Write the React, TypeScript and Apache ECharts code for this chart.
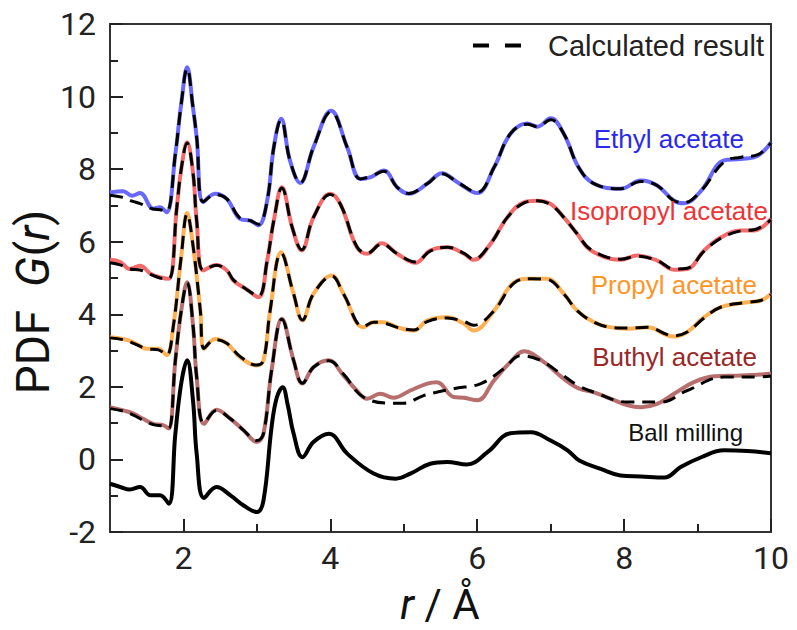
import React, { useEffect, useRef } from "react";
import * as echarts from "echarts";

// ---- data (r in Å, G(r)) ----
const ETHYL_R = [1.0, 1.18, 1.3, 1.41, 1.59, 1.68, 1.77, 1.89, 1.97, 2.05, 2.13, 2.18, 2.27, 2.43, 2.59, 2.77, 2.91, 3.02, 3.14, 3.23, 3.33, 3.45, 3.59, 3.77, 4.01, 4.23, 4.41, 4.55, 4.73, 4.91, 5.07, 5.32, 5.52, 5.73, 6.0, 6.23, 6.45, 6.68, 6.82, 7.0, 7.18, 7.38, 7.59, 7.95, 8.23, 8.45, 8.68, 8.82, 9.05, 9.36, 9.59, 9.82, 10.0];
const ETHYL_EXP = [7.36, 7.39, 7.27, 7.34, 6.91, 6.95, 6.81, 8.42, 9.8, 10.81, 9.7, 8.88, 7.09, 7.32, 7.18, 6.63, 6.58, 6.45, 7.13, 8.6, 9.39, 8.24, 7.62, 8.6, 9.61, 8.6, 7.73, 7.78, 7.96, 7.5, 7.32, 7.6, 7.89, 7.64, 7.34, 8.05, 8.97, 9.26, 9.17, 9.4, 8.97, 8.05, 7.6, 7.46, 7.69, 7.55, 7.13, 7.06, 7.41, 8.24, 8.28, 8.37, 8.74];
const ETHYL_CALC = [7.28, 7.22, 7.12, 7.05, 6.9, 6.88, 6.84, 8.42, 9.8, 10.78, 9.7, 8.88, 7.1, 7.3, 7.18, 6.65, 6.58, 6.48, 7.13, 8.6, 9.36, 8.24, 7.62, 8.6, 9.58, 8.6, 7.73, 7.8, 7.94, 7.5, 7.33, 7.6, 7.87, 7.64, 7.36, 8.05, 8.97, 9.24, 9.17, 9.36, 8.97, 8.05, 7.6, 7.46, 7.66, 7.55, 7.13, 7.08, 7.41, 8.2, 8.33, 8.4, 8.72];

const ISO_R = [1.0, 1.14, 1.27, 1.41, 1.55, 1.68, 1.8, 1.91, 1.97, 2.05, 2.13, 2.18, 2.27, 2.45, 2.59, 2.68, 2.85, 3.02, 3.14, 3.23, 3.34, 3.48, 3.61, 3.77, 4.0, 4.14, 4.36, 4.5, 4.7, 4.91, 5.16, 5.36, 5.59, 5.82, 5.95, 6.18, 6.41, 6.64, 6.82, 7.0, 7.18, 7.36, 7.55, 7.95, 8.18, 8.45, 8.68, 8.86, 9.09, 9.32, 9.59, 9.77, 10.0];
const ISO_EXP = [5.5, 5.44, 5.25, 5.34, 5.12, 5.02, 4.98, 6.95, 8.0, 8.74, 7.9, 6.58, 5.21, 5.36, 5.21, 4.93, 4.7, 4.47, 5.48, 6.58, 7.5, 6.4, 5.76, 6.67, 7.32, 7.02, 5.85, 5.67, 5.96, 5.67, 5.42, 5.76, 5.85, 5.67, 5.5, 5.94, 6.67, 7.09, 7.13, 7.04, 6.67, 6.22, 5.76, 5.5, 5.62, 5.48, 5.23, 5.25, 5.76, 6.12, 6.31, 6.31, 6.63];
const ISO_CALC = [5.42, 5.36, 5.25, 5.22, 5.1, 5.0, 4.98, 6.95, 8.0, 8.72, 7.9, 6.58, 5.22, 5.35, 5.21, 4.95, 4.7, 4.5, 5.48, 6.58, 7.48, 6.4, 5.78, 6.67, 7.3, 7.02, 5.87, 5.68, 5.94, 5.67, 5.44, 5.74, 5.85, 5.68, 5.52, 5.94, 6.67, 7.07, 7.13, 7.02, 6.67, 6.22, 5.78, 5.52, 5.6, 5.48, 5.25, 5.27, 5.74, 6.1, 6.3, 6.33, 6.6];

const PROP_R = [1.0, 1.18, 1.32, 1.5, 1.66, 1.77, 1.86, 1.97, 2.05, 2.13, 2.23, 2.28, 2.43, 2.59, 2.77, 3.0, 3.09, 3.18, 3.33, 3.5, 3.62, 3.77, 4.02, 4.18, 4.45, 4.59, 4.73, 4.91, 5.14, 5.32, 5.59, 5.82, 5.95, 6.23, 6.5, 6.73, 6.95, 7.18, 7.36, 7.59, 7.82, 8.05, 8.32, 8.59, 8.68, 8.86, 9.09, 9.32, 9.68, 9.86, 10.0];
const PROP_EXP = [3.37, 3.32, 3.23, 3.05, 3.05, 2.87, 3.64, 5.6, 6.79, 5.9, 4.1, 3.05, 3.32, 3.2, 2.82, 2.59, 2.73, 4.1, 5.71, 4.56, 3.83, 4.56, 5.07, 4.56, 3.64, 3.78, 3.78, 3.64, 3.55, 3.83, 3.92, 3.74, 3.55, 4.1, 4.88, 4.98, 4.98, 4.56, 4.1, 3.78, 3.64, 3.6, 3.64, 3.42, 3.39, 3.51, 3.92, 4.2, 4.33, 4.38, 4.56];
const PROP_CALC = [3.35, 3.3, 3.2, 3.05, 3.02, 2.88, 3.64, 5.6, 6.77, 5.9, 4.1, 3.06, 3.3, 3.2, 2.84, 2.6, 2.73, 4.1, 5.69, 4.56, 3.84, 4.56, 5.05, 4.56, 3.66, 3.78, 3.76, 3.64, 3.57, 3.8, 3.9, 3.8, 3.7, 4.1, 4.86, 4.98, 4.96, 4.56, 4.1, 3.78, 3.64, 3.62, 3.64, 3.44, 3.41, 3.51, 3.9, 4.2, 4.33, 4.38, 4.54];

const BUT_R = [1.0, 1.18, 1.32, 1.45, 1.59, 1.73, 1.8, 1.89, 1.97, 2.05, 2.13, 2.18, 2.28, 2.45, 2.64, 2.82, 3.0, 3.09, 3.2, 3.34, 3.5, 3.62, 3.77, 3.98, 4.18, 4.36, 4.5, 4.68, 4.86, 5.09, 5.32, 5.45, 5.68, 5.82, 6.0, 6.23, 6.45, 6.64, 6.91, 7.18, 7.39, 7.59, 7.82, 8.05, 8.23, 8.45, 8.68, 8.95, 9.23, 9.59, 10.0];
const BUT_EXP = [1.44, 1.35, 1.26, 1.12, 0.98, 0.94, 0.85, 2.73, 4.1, 4.88, 3.7, 2.27, 0.98, 1.37, 1.12, 0.8, 0.48, 0.71, 2.45, 3.88, 2.73, 2.09, 2.54, 2.73, 2.31, 1.9, 1.67, 1.81, 1.7, 1.9, 2.09, 2.13, 1.72, 1.7, 1.63, 2.18, 2.68, 2.98, 2.68, 2.22, 1.95, 1.85, 1.67, 1.49, 1.44, 1.53, 1.81, 2.13, 2.29, 2.31, 2.36];
const BUT_CALC_R = [1.0, 1.18, 1.32, 1.45, 1.59, 1.73, 1.8, 1.89, 1.97, 2.05, 2.13, 2.18, 2.28, 2.45, 2.64, 2.82, 3.0, 3.09, 3.2, 3.34, 3.5, 3.62, 3.77, 3.98, 4.18, 4.45, 4.86, 5.0, 5.27, 5.68, 6.05, 6.36, 6.59, 6.86, 7.14, 7.36, 7.59, 8.05, 8.5, 8.86, 9.36, 9.77, 10.0];
const BUT_CALC = [1.4, 1.33, 1.22, 1.08, 0.96, 0.92, 0.86, 2.73, 4.1, 4.86, 3.7, 2.27, 1.0, 1.35, 1.12, 0.8, 0.52, 0.71, 2.45, 3.86, 2.73, 2.1, 2.54, 2.72, 2.35, 1.72, 1.55, 1.55, 1.76, 1.95, 2.09, 2.5, 2.86, 2.73, 2.36, 2.05, 1.85, 1.58, 1.58, 1.9, 2.27, 2.27, 2.3];

const BM_R = [1.0, 1.14, 1.27, 1.41, 1.55, 1.68, 1.8, 1.89, 1.97, 2.05, 2.13, 2.18, 2.28, 2.45, 2.64, 2.82, 3.0, 3.09, 3.2, 3.27, 3.35, 3.42, 3.5, 3.62, 3.77, 3.98, 4.23, 4.59, 4.89, 5.09, 5.36, 5.59, 5.86, 6.14, 6.45, 6.73, 7.0, 7.23, 7.39, 7.68, 7.95, 8.23, 8.55, 8.77, 9.05, 9.36, 9.68, 10.0];
const BM_G = [-0.67, -0.76, -0.83, -0.76, -0.99, -0.99, -1.22, 0.71, 2.1, 2.73, 1.63, 0.16, -1.06, -0.76, -0.99, -1.27, -1.45, -1.13, 0.89, 1.7, 1.99, 1.5, 0.71, 0.06, 0.48, 0.71, 0.16, -0.39, -0.53, -0.39, -0.12, -0.07, -0.14, 0.2, 0.72, 0.75, 0.52, 0.25, -0.03, -0.26, -0.44, -0.47, -0.5, -0.21, 0.06, 0.25, 0.23, 0.17];

const X_MAJOR = [2, 4, 6, 8, 10];
const X_MINOR = [3, 5, 7, 9];
const CALC_NAME = "Calculated result";
const LABELS = ["Ethyl acetate", "Isopropyl acetate", "Propyl acetate", "Buthyl acetate", "Ball milling"];

const zip = (r: number[], g: number[]) => r.map((x, i) => [x, g[i]]);

export default function App() {
  const ref = useRef<HTMLDivElement>(null);
  useEffect(() => {
    const chart = echarts.init(ref.current!, null, { renderer: "svg" });
    const AX = "Roboto";
    const LF = "'Liberation Sans', Arial, sans-serif";
    const SM = 0.4;
    const FRAME = "#333";
    const TICK = { color: "#222", width: 2 };
    const solid = (name: string, r: number[], g: number[], color: string) => ({
      type: "line", name, data: zip(r, g), smooth: SM, symbol: "none",
      lineStyle: { color, width: 4 }, itemStyle: { color }, z: 2,
    });
    const dashed = (r: number[], g: number[]) => ({
      type: "line", name: CALC_NAME, data: zip(r, g), smooth: SM, symbol: "none",
      lineStyle: { color: "#000", width: 3, type: [13, 8] }, itemStyle: { color: "#000" }, z: 3,
    });
    const lbl = (text: string, x: number, y: number, color: string, size: number) => ({
      type: "text", x, y, z: 10,
      style: { text, fill: color, font: `${size}px ${LF}`, align: "right", verticalAlign: "middle" },
    });
    const frameAxis = (position: string) => ({
      type: "value", position, min: position === "top" ? 1 : -2, max: position === "top" ? 10 : 12,
      axisLine: { show: true, onZero: false, lineStyle: { color: FRAME, width: 2 } },
      axisTick: { show: false }, axisLabel: { show: false }, splitLine: { show: false },
    });
    chart.setOption({
      animation: false,
      backgroundColor: "#fff",
      grid: { left: 110, right: 26, top: 24, bottom: 98 },
      legend: {
        data: [{ name: CALC_NAME, icon: "path://M0 0H16V4H0ZM32 0H48V4H32Z", itemStyle: { color: "#000" } }],
        right: 28, top: 26, itemWidth: 48, itemHeight: 4, selectedMode: false,
        textStyle: { fontFamily: LF, fontSize: 29, color: "#222", padding: [0, 0, 0, 22] },
      },
      xAxis: [
        {
          type: "value", min: 1, max: 10, interval: 1, position: "bottom",
          axisLine: { show: true, onZero: false, lineStyle: { color: FRAME, width: 2 } },
          axisTick: { show: true, inside: true, length: 13, customValues: X_MAJOR, lineStyle: TICK },
          axisLabel: { show: true, customValues: X_MAJOR, fontFamily: AX, fontSize: 32, color: "#222", margin: 10 },
          splitLine: { show: false },
        },
        {
          type: "value", min: 1, max: 10, interval: 1, position: "bottom",
          axisLine: { show: false, onZero: false },
          axisTick: { show: true, inside: true, length: 8, customValues: X_MINOR, lineStyle: TICK },
          axisLabel: { show: false },
          splitLine: { show: false },
        },
        frameAxis("top"),
      ],
      yAxis: [
        {
          type: "value", min: -2, max: 12, interval: 2, position: "left",
          axisLine: { show: true, onZero: false, lineStyle: { color: FRAME, width: 2 } },
          axisTick: { show: true, inside: true, length: 13, lineStyle: TICK },
          minorTick: { show: true, splitNumber: 2, length: 8, lineStyle: TICK },
          axisLabel: { show: true, fontFamily: AX, fontSize: 32, color: "#222", margin: 14 },
          splitLine: { show: false },
        },
        frameAxis("right"),
      ],
      series: [
        solid(LABELS[0], ETHYL_R, ETHYL_EXP, "#6868ff"),
        solid(LABELS[1], ISO_R, ISO_EXP, "#f46a6a"),
        solid(LABELS[2], PROP_R, PROP_EXP, "#ffb052"),
        solid(LABELS[3], BUT_R, BUT_EXP, "#b96e6e"),
        solid(LABELS[4], BM_R, BM_G, "#000000"),
        dashed(ETHYL_R, ETHYL_CALC),
        dashed(ISO_R, ISO_CALC),
        dashed(PROP_R, PROP_CALC),
        dashed(BUT_CALC_R, BUT_CALC),
      ],
      graphic: [
        lbl(LABELS[0], 744, 139, "#2a2aee", 26),
        lbl(LABELS[1], 768, 211, "#f03434", 26),
        lbl(LABELS[2], 757, 285, "#ff9526", 26),
        lbl(LABELS[3], 757, 357, "#9b2828", 26),
        lbl(LABELS[4], 743, 432, "#111111", 24),
        {
          type: "text", x: 33, y: 302, rotation: Math.PI / 2, z: 10,
          style: {
            text: "{n|PDF}  {i|G}{n|(}{i|r}{n|)}",
            font: `46px ${AX}`, fill: "#111", align: "center", verticalAlign: "middle",
            rich: {
              n: { fontFamily: AX, fontSize: 46, fill: "#111" },
              i: { fontFamily: AX, fontSize: 46, fontStyle: "italic", fill: "#111" },
            },
          },
        },
        {
          type: "text", x: 440, y: 604, z: 10,
          style: {
            text: "{i|r} / Å",
            font: `42px ${AX}`, fill: "#111", align: "center", verticalAlign: "middle",
            rich: {
              i: { fontFamily: AX, fontSize: 42, fontStyle: "italic", fill: "#111" },
            },
          },
        },
      ],
    });
    return () => chart.dispose();
  }, []);
  return <div ref={ref} style={{ position: "fixed", left: 0, top: 0, width: 797, height: 630 }} />;
}
